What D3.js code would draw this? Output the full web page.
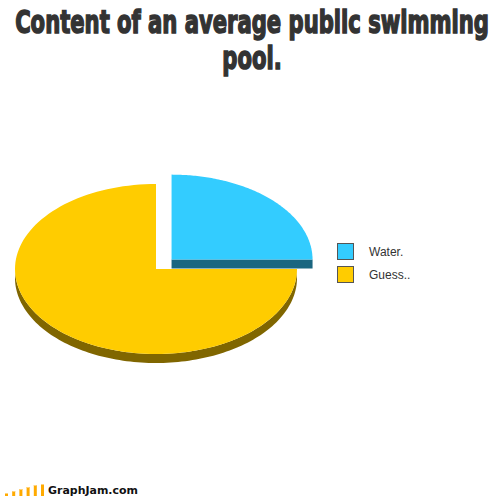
<!DOCTYPE html>
<html><head><meta charset="utf-8">
<script src="https://cdn.jsdelivr.net/npm/d3@7"></script>
<style>body{margin:0;background:#fff}svg{display:block}</style>
</head><body>
<script>
const categories = ["Water.", "Guess.."];
const values = [25, 75];
const colors = ["#33CCFF", "#FFCC00"];
const darkColors = ["#1A6680", "#806600"];
const titleLines = ["Content of an average public swimming", "pool."];

const W = 504, H = 497;
const svg = d3.select("body").append("svg").attr("width", W).attr("height", H);

// title: fit first line to ~476px width, stretch vertically to match heavy condensed look
const title = svg.append("g");
const baseSize = 30;
const probe = title.append("text")
  .attr("font-family", "'Liberation Sans Narrow','DejaVu Sans Condensed',sans-serif")
  .attr("font-weight", "bold").attr("font-size", baseSize).text(titleLines[0]);
const natW = probe.node().getComputedTextLength() || 470;
probe.remove();
const fs = baseSize * 474 / natW;
const sy = 23 / (0.729 * fs);
titleLines.forEach((t, i) => {
  const baseY = 33 + i * 36;
  title.append("text")
    .attr("transform", `translate(252,${baseY}) scale(1,${sy})`)
    .attr("text-anchor", "middle")
    .attr("font-family", "'Liberation Sans Narrow','DejaVu Sans Condensed',sans-serif")
    .attr("font-weight", "bold")
    .attr("font-size", fs)
    .attr("fill", "#333")
    .attr("stroke", "#333").attr("stroke-width", 1.1)
    .text(t);
});

// 3D pie
const cx = 156, cy = 269, rx = 141, ry = 85, depth = 9, explode = 22;
const pie = d3.pie().sort(null).value(d => d)(values);

function pt(a, ox, oy, dz) {
  return [ox + rx * Math.sin(a), oy - ry * Math.cos(a) + (dz || 0)];
}

const slices = pie.map((p, i) => {
  const mid = (p.startAngle + p.endAngle) / 2;
  const off = i === 0 ? explode : 0;
  return {
    p, i,
    ox: cx + off * Math.sin(mid),
    oy: cy - off * Math.cos(mid) * ry / rx
  };
});

function arcTop(s) {
  const path = d3.path();
  const N = 120;
  path.moveTo(s.ox, s.oy);
  for (let k = 0; k <= N; k++) {
    const a = s.p.startAngle + (s.p.endAngle - s.p.startAngle) * k / N;
    const [x, y] = pt(a, s.ox, s.oy);
    path.lineTo(x, y);
  }
  path.closePath();
  return path.toString();
}

function rimSide(s) {
  const a0 = Math.max(s.p.startAngle, Math.PI / 2);
  const a1 = Math.min(s.p.endAngle, 3 * Math.PI / 2);
  if (a1 <= a0) return null;
  const path = d3.path();
  const N = 120;
  for (let k = 0; k <= N; k++) {
    const a = a0 + (a1 - a0) * k / N;
    const [x, y] = pt(a, s.ox, s.oy);
    k === 0 ? path.moveTo(x, y) : path.lineTo(x, y);
  }
  for (let k = N; k >= 0; k--) {
    const a = a0 + (a1 - a0) * k / N;
    const [x, y] = pt(a, s.ox, s.oy, depth);
    path.lineTo(x, y);
  }
  path.closePath();
  return path.toString();
}

function radialSide(s, a) {
  const [x, y] = pt(a, s.ox, s.oy);
  const path = d3.path();
  path.moveTo(s.ox, s.oy);
  path.lineTo(x, y);
  path.lineTo(x, y + depth);
  path.lineTo(s.ox, s.oy + depth);
  path.closePath();
  return path.toString();
}

const g = svg.append("g");
const yS = slices[1], bS = slices[0];
const ySide = rimSide(yS);
if (ySide) g.append("path").attr("d", ySide).attr("fill", darkColors[1]);
g.append("path").attr("d", arcTop(yS)).attr("fill", colors[1]);
g.append("path").attr("d", radialSide(bS, bS.p.endAngle)).attr("fill", darkColors[0]);
const bSide = rimSide(bS);
if (bSide) g.append("path").attr("d", bSide).attr("fill", darkColors[0]);
g.append("path").attr("d", arcTop(bS)).attr("fill", colors[0]);

// legend
const leg = svg.append("g");
categories.forEach((c, i) => {
  const y = 243 + i * 23;
  leg.append("rect").attr("x", 337.5).attr("y", y + 0.5).attr("width", 16).attr("height", 16)
    .attr("fill", colors[i]).attr("stroke", "#555").attr("stroke-width", 1);
  leg.append("text").attr("x", 369).attr("y", y + 13)
    .attr("font-family", "'Liberation Sans',Arial,sans-serif").attr("font-size", 12)
    .attr("fill", "#333").text(c);
});

// GraphJam logo
const logo = svg.append("g");
const barH = [3, 5, 7, 9, 11, 12];
barH.forEach((h, i) => {
  const x = 5 + i * 7.2;
  logo.append("rect").attr("x", x).attr("y", 496 - h).attr("width", 3).attr("height", h).attr("fill", "#FFAA00");
  logo.append("rect").attr("x", x).attr("y", 496 - h).attr("width", 3).attr("height", 1).attr("fill", "#FFD27A");
});
logo.append("text").attr("x", 48).attr("y", 494)
  .attr("font-family", "'DejaVu Sans',sans-serif").attr("font-weight", "bold").attr("font-size", 10.5)
  .attr("fill", "#111").attr("textLength", 90).attr("lengthAdjust", "spacingAndGlyphs")
  .text("GraphJam.com");
</script>
</body></html>
